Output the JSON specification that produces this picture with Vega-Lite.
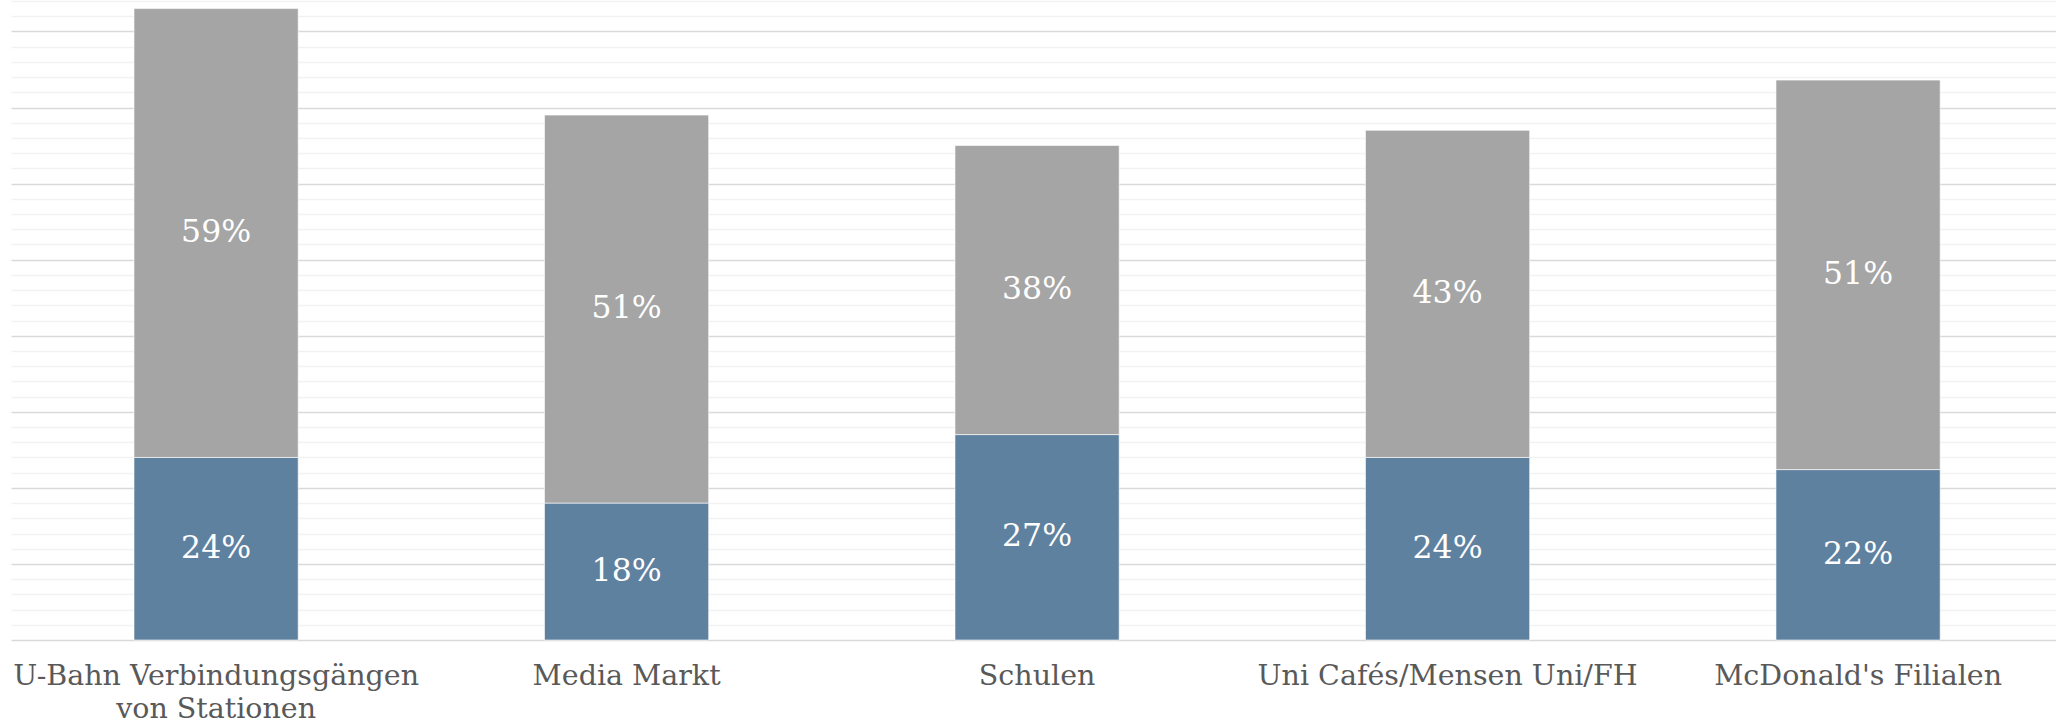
{
  "$schema": "https://vega.github.io/schema/vega-lite/v6.json",
  "width": 2045,
  "height": 639,
  "autosize": {"type": "none"},
  "padding": {"left": 11, "top": 1, "right": 0, "bottom": 83},
  "background": "white",
  "config": {"view": {"stroke": null}},
  "data": {
    "values": [
      {"Kategorie": "U-Bahn Verbindungsgängen von Stationen", "Serie": "Serie 1", "Anteil": 0.24},
      {"Kategorie": "U-Bahn Verbindungsgängen von Stationen", "Serie": "Serie 2", "Anteil": 0.59},
      {"Kategorie": "Media Markt", "Serie": "Serie 1", "Anteil": 0.18},
      {"Kategorie": "Media Markt", "Serie": "Serie 2", "Anteil": 0.51},
      {"Kategorie": "Schulen", "Serie": "Serie 1", "Anteil": 0.27},
      {"Kategorie": "Schulen", "Serie": "Serie 2", "Anteil": 0.38},
      {"Kategorie": "Uni Cafés/Mensen Uni/FH", "Serie": "Serie 1", "Anteil": 0.24},
      {"Kategorie": "Uni Cafés/Mensen Uni/FH", "Serie": "Serie 2", "Anteil": 0.43},
      {"Kategorie": "McDonald's Filialen", "Serie": "Serie 1", "Anteil": 0.224},
      {"Kategorie": "McDonald's Filialen", "Serie": "Serie 2", "Anteil": 0.512}
    ]
  },
  "transform": [
    {"stack": "Anteil", "groupby": ["Kategorie"], "sort": [{"field": "Serie", "order": "ascending"}], "as": ["v0", "v1"]}
  ],
  "encoding": {
    "x": {
      "field": "Kategorie",
      "type": "nominal",
      "sort": null,
      "scale": {"paddingInner": 0.6, "paddingOuter": 0.2909, "align": 0.515},
      "axis": {
        "title": null,
        "labelAngle": 0,
        "ticks": false,
        "domain": false,
        "labelFont": "DejaVu Serif",
        "labelFontSize": 28.5,
        "labelColor": "#595959",
        "labelPadding": 21,
        "labelLineHeight": 33,
        "labelLimit": 1000,
        "labelOverlap": false,
        "labelBound": false,
        "labelFlush": false,
        "labelExpr": "datum.label == 'U-Bahn Verbindungsgängen von Stationen' ? ['U-Bahn Verbindungsgängen', 'von Stationen'] : datum.label"
      }
    }
  },
  "layer": [
    {
      "mark": {"type": "bar", "stroke": "white", "strokeWidth": 1, "strokeOpacity": 0.6},
      "encoding": {
        "y": {
          "field": "v1",
          "type": "quantitative",
          "scale": {"domain": [0, 0.84], "nice": false, "zero": true},
          "axis": {
            "title": null,
            "values": [0, 0.1, 0.2, 0.3, 0.4, 0.5, 0.6, 0.7, 0.8],
            "grid": true,
            "gridColor": "#d9d9d9",
            "gridWidth": 1.3,
            "labels": false,
            "ticks": false,
            "domain": false
          }
        },
        "y2": {"field": "v0"},
        "color": {
          "field": "Serie",
          "type": "nominal",
          "scale": {"domain": ["Serie 1", "Serie 2"], "range": ["#5f81a0", "#a5a5a5"]},
          "legend": null
        }
      }
    },
    {
      "transform": [
        {"fold": ["v0", "v1"], "as": ["Grenze", "Wert"]},
        {"aggregate": [{"op": "mean", "field": "Wert", "as": "Mitte"}], "groupby": ["Kategorie", "Serie", "Anteil"]}
      ],
      "mark": {"type": "text", "color": "white", "font": "DejaVu Serif", "fontSize": 31.5, "baseline": "middle", "align": "center"},
      "encoding": {
        "y": {
          "field": "Mitte",
          "type": "quantitative",
          "scale": {"domain": [0, 0.84], "nice": false, "zero": true},
          "axis": {
            "title": null,
            "values": [0.02, 0.04, 0.06, 0.08, 0.12, 0.14, 0.16, 0.18, 0.22, 0.24, 0.26, 0.28, 0.32, 0.34, 0.36, 0.38, 0.42, 0.44, 0.46, 0.48, 0.52, 0.54, 0.56, 0.58, 0.62, 0.64, 0.66, 0.68, 0.72, 0.74, 0.76, 0.78, 0.82, 0.84],
            "grid": true,
            "gridColor": "#f2f2f2",
            "gridWidth": 1.3,
            "labels": false,
            "ticks": false,
            "domain": false
          }
        },
        "text": {"field": "Anteil", "type": "quantitative", "format": ".0%"}
      }
    }
  ],
  "resolve": {"axis": {"y": "independent"}}
}
